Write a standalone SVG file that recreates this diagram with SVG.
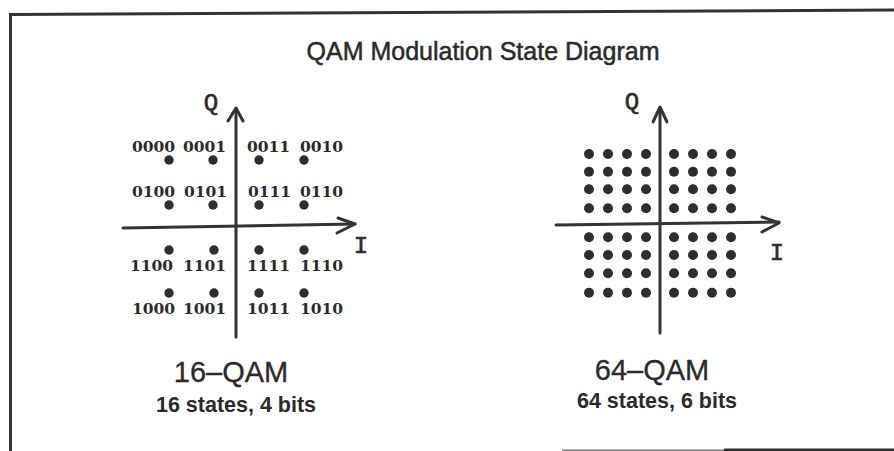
<svg xmlns="http://www.w3.org/2000/svg" width="894" height="451" viewBox="0 0 894 451">
<style>
.ax{stroke:#333;stroke-width:3;fill:none;stroke-linecap:round;stroke-linejoin:round}
.dot{fill:#2e2e2e}
.lbl{font-family:"DejaVu Serif",serif;font-weight:bold;font-size:15.5px;fill:#2a2a2a}
.axl{font-family:"Liberation Mono",monospace;font-size:24px;fill:#2a2a2a;stroke:#2a2a2a;stroke-width:0.6}
.ttl{font-family:"Liberation Sans",Arial,sans-serif;font-size:25px;fill:#2a2a2a;stroke:#2a2a2a;stroke-width:0.5}
.big{font-family:"Liberation Sans",Arial,sans-serif;font-size:29px;fill:#2a2a2a;stroke:#2a2a2a;stroke-width:0.3}
.sub{font-family:"Liberation Sans",Arial,sans-serif;font-weight:bold;font-size:21.5px;fill:#2a2a2a}
</style>
<g id="frame" fill="none">
<line x1="10" y1="14.5" x2="894" y2="10" stroke="#333" stroke-width="3"/>
<line x1="10.5" y1="13" x2="10.5" y2="451" stroke="#333" stroke-width="3"/>
<line x1="562" y1="450.5" x2="724" y2="450.5" stroke="#777" stroke-width="2"/>
<line x1="724" y1="450" x2="894" y2="450" stroke="#333" stroke-width="3"/>
</g>
<g id="title"><text class="ttl" x="483" y="60" text-anchor="middle">QAM Modulation State Diagram</text></g>
<g id="connectors">
<line class="ax" x1="123" y1="228" x2="355" y2="224"/>
<polyline class="ax" points="338,218 355,224 337,233"/>
<line class="ax" x1="236" y1="337" x2="236" y2="109"/>
<polyline class="ax" points="228,121 236,108 243,121"/>
<line class="ax" x1="556" y1="225" x2="779" y2="222"/>
<polyline class="ax" points="762,217 779,223 762,232"/>
<line class="ax" x1="660" y1="333" x2="660" y2="108"/>
<polyline class="ax" points="653,122 660,107 667,122"/>
</g>
<g id="qam16">
<text class="axl" x="211" y="110" text-anchor="middle">Q</text>
<text class="axl" x="361" y="253" text-anchor="middle">I</text>
<g class="dot">
<circle cx="169" cy="160" r="4.7"/><circle cx="213" cy="160" r="4.7"/><circle cx="259" cy="160" r="4.7"/><circle cx="304" cy="160" r="4.7"/>
<circle cx="169" cy="205" r="4.7"/><circle cx="213" cy="205" r="4.7"/><circle cx="259" cy="205" r="4.7"/><circle cx="304" cy="205" r="4.7"/>
<circle cx="169" cy="250" r="4.7"/><circle cx="214" cy="250" r="4.7"/><circle cx="259" cy="250" r="4.7"/><circle cx="304" cy="250" r="4.7"/>
<circle cx="169" cy="293" r="4.7"/><circle cx="214" cy="293" r="4.7"/><circle cx="259" cy="293" r="4.7"/><circle cx="304" cy="293" r="4.7"/>
</g>
<g class="lbl">
<text x="132" y="152">0000</text><text x="183" y="152">0001</text><text x="247" y="152">0011</text><text x="300" y="152">0010</text>
<text x="132" y="197">0100</text><text x="184" y="197">0101</text><text x="248" y="197">0111</text><text x="300" y="197">0110</text>
<text x="130" y="271">1100</text><text x="183" y="271">1101</text><text x="247" y="271">1111</text><text x="300" y="271">1110</text>
<text x="132" y="314">1000</text><text x="183" y="314">1001</text><text x="247" y="314">1011</text><text x="300" y="314">1010</text>
</g>
<text class="big" x="231" y="382" text-anchor="middle">16–QAM</text>
<text class="sub" x="236" y="412" text-anchor="middle">16 states, 4 bits</text>
</g>
<g id="qam64">
<text class="axl" x="632" y="109" text-anchor="middle">Q</text>
<text class="axl" x="777" y="260" text-anchor="middle">I</text>
<g class="dot">
<g id="r1"><circle cx="589" cy="154" r="5"/><circle cx="608" cy="154" r="5"/><circle cx="627" cy="154" r="5"/><circle cx="646" cy="154" r="5"/><circle cx="674" cy="154" r="5"/><circle cx="693" cy="154" r="5"/><circle cx="712" cy="154" r="5"/><circle cx="731" cy="154" r="5"/></g>
<use href="#r1" y="17.7"/><use href="#r1" y="35.3"/><use href="#r1" y="54.3"/>
<use href="#r1" y="83.3"/><use href="#r1" y="101"/><use href="#r1" y="119.3"/><use href="#r1" y="138.7"/>
</g>
<text class="big" x="652" y="380" text-anchor="middle">64–QAM</text>
<text class="sub" x="657" y="408" text-anchor="middle">64 states, 6 bits</text>
</g>
</svg>
